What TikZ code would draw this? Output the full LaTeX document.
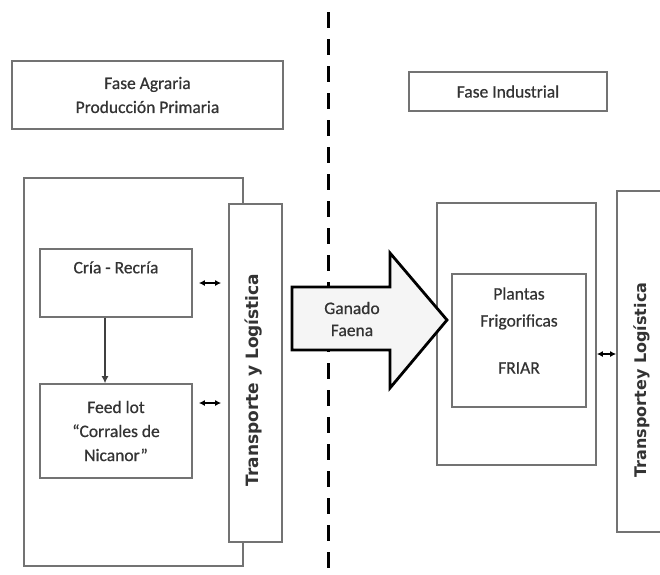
\documentclass[tikz,border=0pt]{standalone}
\usepackage{fontspec}
\setmainfont{Carlito}[FakeBold=0.6]
\newfontfamily\transfont{DejaVu Sans}
\usetikzlibrary{arrows.meta}

\tikzset{
    caja/.style={draw=black!55, line width=1.7pt, fill=white, inner sep=0pt, align=center},
    dobleflecha/.style={line width=1.3pt, {Latex[length=6pt,width=6pt]}-{Latex[length=6pt,width=6pt]}},
    transtxt/.style={font=\transfont\bfseries\fontsize{#1}{20}\selectfont, rotate=90, inner sep=0pt},
    transtxt/.default=17,
}

\begin{document}
\begin{tikzpicture}[x=1pt, y=-1pt, font=\fontsize{17.5}{24}\selectfont, text=black!80]
    \useasboundingbox (0,0) rectangle (660,574);

    % linea divisoria
    \coordinate (divtop) at (328,12);
    \coordinate (divbot) at (328,570);
    \draw[line width=3pt, dash pattern=on 16pt off 11pt](divtop)--(divbot);

    % fases
    \node[caja, minimum width=271pt, minimum height=68pt] (agraria) at (147.5,95) {Fase Agraria\\Producción Primaria};
    \node[caja, minimum width=198pt, minimum height=39pt] (industrial) at (508,91.5) {Fase Industrial};

    % fase agraria
    \node[caja, minimum width=219pt, minimum height=388pt] (outerL) at (133.5,372) {};
    \node[caja, minimum width=53pt, minimum height=338pt] (transL) at (255.5,373) {};
    \node[transtxt] (transLtxt) at (254,380) {Transporte y Logística};

    \node[caja, minimum width=152pt, minimum height=68pt,
        label={[anchor=north, yshift=-13pt, inner sep=0pt]north:Cría - Recría}] (cria) at (116,283) {};
    \node[caja, minimum width=152pt, minimum height=94pt] (feed) at (116,431) {Feed lot\\“Corrales de\\Nicanor”};

    \draw[line width=1.1pt, black!75, -{Latex[length=7pt,width=7pt]}]([xshift=-11pt]cria.south)--([xshift=-11pt]cria.south |- feed.north);
    \draw[dobleflecha]([xshift=6pt]cria.east)--([xshift=-7pt]cria.east -| transL.west);
    \draw[dobleflecha]([xshift=6pt,yshift=28pt]feed.east)--([xshift=-7pt,yshift=28pt]feed.east -| transL.west);

    % fase industrial
    \node[caja, minimum width=159pt, minimum height=262pt] (outerR) at (516.5,334) {};
    \node[caja, minimum width=134pt, minimum height=133pt,
        label={[anchor=north, yshift=-14pt, inner sep=0pt, align=center]north:Plantas\\[3pt]Frigorificas\\[23pt]FRIAR}] (plantas) at (519,340.5) {};
    \node[caja, minimum width=53pt, minimum height=341pt] (transR) at (643.5,361.5) {};
    \node[transtxt=16] (transRtxt) at (642,380) {Transportey Logística};

    \draw[dobleflecha]([yshift=-20pt]outerR.east)--([yshift=-20pt]outerR.east -| transR.west);

    % flecha ganado
    \draw[line width=2.8pt, fill=black!4, line join=miter](292,287)--(390,287)--(390,253)--(447,320)--(390,388)--(390,350)--(292,350)--cycle;
    \node[inner sep=0pt, align=center, font=\fontsize{17.5}{22}\selectfont] (ganado) at (352,319) {Ganado\\Faena};
\end{tikzpicture}
\end{document}
